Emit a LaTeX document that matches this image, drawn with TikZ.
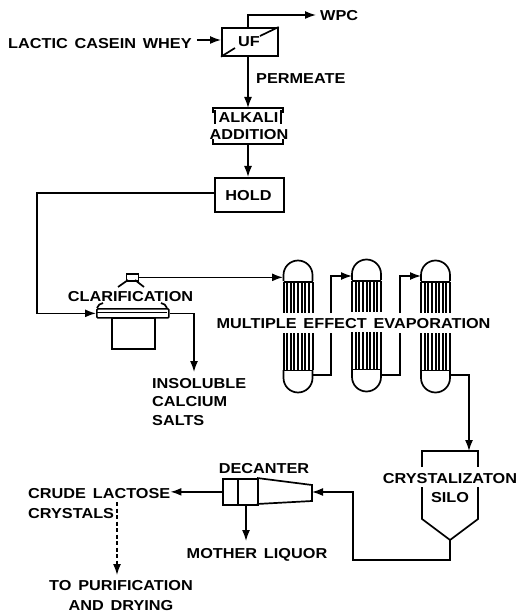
\documentclass[tikz,border=0pt]{standalone}
\usepackage{fontspec}
\setmainfont[BoldFont={Liberation Sans Bold},FakeStretch=1.13,WordSpace=1.5]{Liberation Sans Bold}
\usetikzlibrary{arrows.meta}
\tikzset{
  ln/.style={line width=1.5pt,line join=miter},
  flow/.style={ln,-{Latex[length=11pt,width=8pt]}},
  dashflow/.style={ln,dash pattern=on 4pt off 2.5pt,-{Latex[length=11pt,width=8pt]}},
  lab/.style={inner sep=0pt,font=\fontsize{14.4}{16}\selectfont,text height=10.3pt,text depth=0pt},
  vessel/.style={line width=1.7pt,line join=miter},
  unit/.style={draw,line width=1.7pt,inner sep=0pt}
}
\newcommand{\evap}[2]{% x-left, y-top of dome
  \begin{scope}[shift={(#1,#2)}]
    \draw[vessel] (0,21) -- (0,15) arc[start angle=180,end angle=360,radius=14.5] -- (29,21);
    \draw[vessel] (0,22) -- (29,22);
    \draw[vessel] (0,110) -- (0,118) arc[start angle=180,end angle=0,radius=14.5] -- (29,110);
    \draw[vessel] (0,110.5) -- (29,110.5);
    \foreach \t in {0,3.625,...,29.1}{
      \draw[line width=2pt] (\t,22) -- (\t,53);
      \draw[line width=2pt] (\t,73) -- (\t,110);
    }
  \end{scope}}
\begin{document}
\begin{tikzpicture}[x=1pt,y=-1pt]
\useasboundingbox (0,0) rectangle (529,612);
% nodes
\node[unit,minimum width=56pt,minimum height=28pt,anchor=north west] (uf) at (221,27) {};
\node[lab] (uftext) at (249,41) {UF};
\node[lab,anchor=west] (whey) at (8,43) {LACTIC CASEIN WHEY};
\node[lab,anchor=west] (wpc) at (320,15) {WPC};
\node[lab,anchor=west] (perm) at (256,78) {PERMEATE};
\node[minimum width=70pt,minimum height=36pt,inner sep=0pt,anchor=north west] (alk) at (213,108) {};
\node[lab] (alk1) at (248.5,117.5) {ALKALI};
\node[lab] (alk2) at (249,134) {ADDITION};
\node[unit,minimum width=69pt,minimum height=34pt,anchor=north west] (hold) at (214,177) {};
\node[lab] (holdt) at (248.5,195) {HOLD};
\node[lab] (clart) at (130.5,296) {CLARIFICATION};
\node[minimum width=72pt,minimum height=9pt,inner sep=0pt,anchor=north west,draw,line width=1.7pt,rounded corners=1pt] (bar) at (96,308) {};
\node[unit,minimum width=43pt,minimum height=31pt,anchor=north west] (tank) at (111,317) {};
\node[minimum width=12pt,minimum height=7pt,inner sep=0pt,draw,line width=1.7pt,anchor=north west] (cap) at (125.5,273) {};
\node[lab,anchor=west] (ins1) at (152,383) {INSOLUBLE};
\node[lab,anchor=west] (ins2) at (152,401) {CALCIUM};
\node[lab,anchor=west] (ins3) at (152,420) {SALTS};
\node[lab] (mee) at (353.5,323) {MULTIPLE EFFECT EVAPORATION};
\node[lab] (cry) at (450,478) {CRYSTALIZATON};
\node[lab] (silo) at (450,497) {SILO};
\node[lab] (dect) at (264,468) {DECANTER};
\node[lab,anchor=west] (crude) at (28,493) {CRUDE LACTOSE};
\node[lab,anchor=west] (crys) at (28,513) {CRYSTALS};
\node[lab] (mother) at (257,553) {MOTHER LIQUOR};
\node[lab] (pur) at (121,585) {TO PURIFICATION};
\node[lab] (dry) at (121,605) {AND DRYING};
% UF diagonals
\draw[vessel] (uf.south west) -- (235,48);
\draw[vessel] (260,36) -- (uf.north east);
% alkali box
\draw[vessel] (213,113) -- (213,108) -- (283,108) -- (283,113);
\draw[vessel] (213,139) -- (213,144) -- (283,144) -- (283,139);
\draw[ln] (215,110) -- (215,124) (281,110) -- (281,124);
% clarifier
\draw[vessel] (97,308) to[bend left=30] (103,303);
\draw[vessel] (167,308) to[bend right=30] (161,303);
\draw[ln] (97,312.5) -- (167,312.5);
\draw[vessel] (128,280) -- (118,287);
\draw[vessel] (135,280) -- (144,287);
% evaporators
\evap{283.5}{260}
\evap{352}{259}
\evap{421}{260}
\coordinate (e1in) at (283,276);
\coordinate (e1out) at (313,375);
\coordinate (e2in) at (352,276);
\coordinate (e2out) at (381,375);
\coordinate (e3in) at (421,276);
\coordinate (e3out) at (450,375);
\coordinate (b1a) at (331,333);
\coordinate (b1b) at (331,313);
\coordinate (b2a) at (400,333);
\coordinate (b2b) at (400,313);
\coordinate (hbend) at (37,193);
% silo
\coordinate (siloTL) at (422,451);
\coordinate (siloTR) at (478,451);
\coordinate (siloV) at (450,540);
\coordinate (siloIn) at (469,451);
\draw[vessel] (422,467) -- (siloTL) -- (siloTR) -- (478,467);
\draw[vessel] (422,487) -- (422,519) -- (siloV) -- (478,519) -- (478,487);
% decanter
\node[unit,minimum width=35pt,minimum height=26pt,anchor=north west] (dec) at (222,478) {};
\draw[vessel] (238,478) -- (238,504);
\draw[vessel] (257,478) -- (312,485) -- (312,501) -- (257,504);
\coordinate (decR) at (312,492);
\coordinate (insb) at (194,372);
% connectors
\draw[flow] (whey.east) ++(5,-3) coordinate (w0) -- (uf.west |- w0);
\draw[flow] (uf.north -| 248,27) -- (248,15) -- (wpc.west -| 316,15);
\draw[flow] (uf.south -| 248,55) -- (alk.north -| 248,108);
\draw[flow] (alk.south -| 248,144) -- (hold.north -| 248,177);
\draw[flow] (hold.west |- hbend) -- (hbend) -- (hbend |- bar.west) -- (bar.west);
\draw[flow] (cap.east) -- (e1in |- cap.east);
\draw[flow] (bar.east) -- (insb |- bar.east) -- (insb);
\draw[ln] (e1out) -- (331,375) -- (b1a);
\draw[flow] (b1b) -- (331,276) -- (e2in);
\draw[ln] (e2out) -- (400,375) -- (b2a);
\draw[flow] (b2b) -- (400,276) -- (e3in);
\draw[flow] (e3out) -- (469,375) -- (siloIn);
\draw[flow] (siloV) -- (450,560) -- (353,560) -- (353,492) -- (decR);
\draw[flow] (dec.west) -- (crude.east |- dec.west);
\draw[flow] (246,504) -- (246,541);
\draw[dashflow] (117,502) -- (117,575);
\end{tikzpicture}
\end{document}
